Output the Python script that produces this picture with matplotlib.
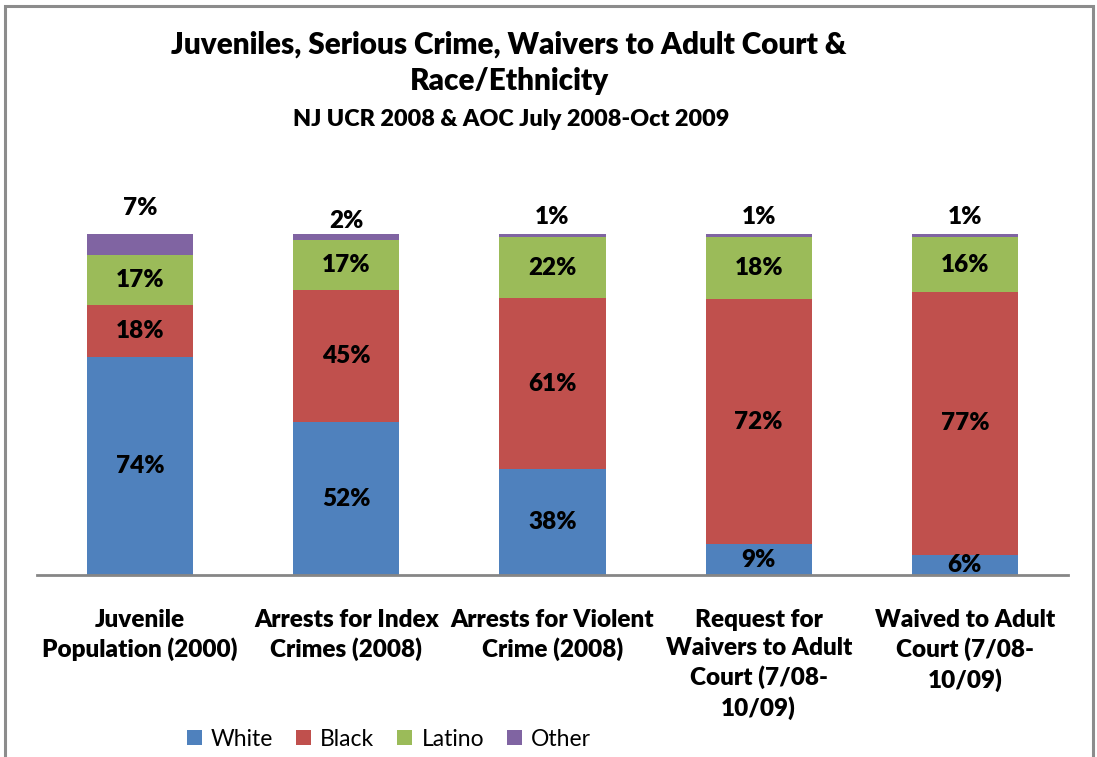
import matplotlib
matplotlib.use('Agg')
import matplotlib.pyplot as plt
import matplotlib.patches as mpatches
import numpy as np

plt.rcParams['font.family'] = ['Lato', 'DejaVu Sans']

# Данные
categories = ['Juvenile\nPopulation (2000)', 'Arrests for Index\nCrimes (2008)',
              'Arrests for Violent\nCrime (2008)', 'Request for\nWaivers to Adult\nCourt (7/08-\n10/09)',
              'Waived to Adult\nCourt (7/08-\n10/09)']
white = [74, 52, 38, 9, 6]
black = [18, 45, 61, 72, 77]
latino = [17, 17, 22, 18, 16]
other = [7, 2, 1, 1, 1]

series_names = ['White', 'Black', 'Latino', 'Other']
colors = ['#4F81BD', '#C0504D', '#9BBB59', '#8064A2']
W = 'heavy'

fig = plt.figure(figsize=(10.97, 7.57), dpi=100)
ax = fig.add_axes([37 / 1097, 182 / 757, 1031 / 1097, 341 / 757])

# рамка диаграммы
frame = mpatches.Rectangle((5 / 1097, -0.05), 1088 / 1097, 1.05 - 6 / 757, transform=fig.transFigure,
                           fill=False, edgecolor='#8c8c8c', linewidth=2.2, zorder=0)
fig.patches.append(frame)

series = [white, black, latino, other]
x = np.arange(len(categories))
totals = np.sum(series, axis=0)
bottom = np.zeros(len(categories))
for name, vals, color in zip(series_names, series, colors):
    h = np.array(vals) / totals
    ax.bar(x, h, 0.515, bottom=bottom, color=color, label=name)
    if name != 'Other':
        for xi, b, hi, v in zip(x, bottom, h, vals):
            ax.text(xi, b + hi / 2, f'{v}%', ha='center', va='center',
                    fontsize=17.5, fontweight=W)
    else:
        offs = [19, 9.5, 12.5, 12.5, 12.5]
        for xi, b, hi, v, o in zip(x, bottom, h, vals, offs):
            ax.annotate(f'{v}%', (xi, b + hi), xytext=(0, o), textcoords='offset points',
                        ha='center', va='center', fontsize=17.5, fontweight=W,
                        annotation_clip=False)
    bottom += h

ax.set_xlim(-0.5, 4.5)
ax.set_ylim(0, 1)
ax.set_yticks([])
ax.set_xticks(x)
ax.set_xticklabels(categories, fontsize=17.5, fontweight=W, linespacing=1.34)
ax.tick_params(axis='x', length=0, pad=24.5)
for s in ['top', 'right', 'left']:
    ax.spines[s].set_visible(False)
ax.spines['bottom'].set_color('#868686')
ax.spines['bottom'].set_linewidth(2)

fig.text(509 / 1097, 1 - 45 / 757, 'Juveniles, Serious Crime, Waivers to Adult Court &',
         ha='center', va='center', fontsize=21.3, fontweight=W)
fig.text(509 / 1097, 1 - 81 / 757, 'Race/Ethnicity',
         ha='center', va='center', fontsize=21.3, fontweight=W)
fig.text(511 / 1097, 1 - 119 / 757, 'NJ UCR 2008 & AOC July 2008-Oct 2009',
         ha='center', va='center', fontsize=16.8, fontweight=W)

fig.legend(loc='center', bbox_to_anchor=(389 / 1097, 1 - 739 / 757), ncol=4, frameon=False,
           fontsize=16.5, handlelength=0.65, handleheight=0.65, handletextpad=0.4,
           columnspacing=1.0)

fig.savefig('out.png', dpi=100)
